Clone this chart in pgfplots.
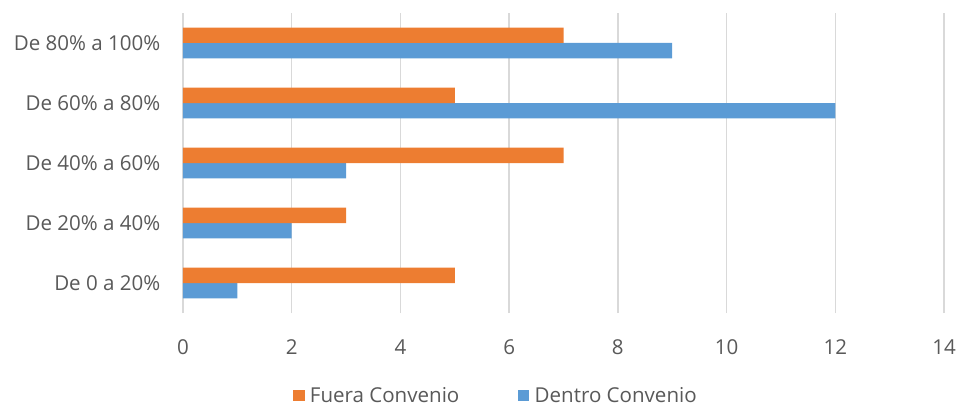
\documentclass[border=0pt]{standalone}
\usepackage{pgfplots}
\pgfplotsset{compat=1.18}
\usepackage{fontspec}
\setmainfont{Open Sans}
\definecolor{cOrange}{HTML}{ED7D31}
\definecolor{cBlue}{HTML}{5B9BD5}
\definecolor{cText}{HTML}{595959}
\definecolor{cGrid}{HTML}{D9D9D9}
\begin{document}
\begin{tikzpicture}
\path[use as bounding box] (-137.25pt,-70.5pt) rectangle (579.75pt,234.75pt);
\begin{axis}[
  at={(0pt,0pt)}, anchor=south west,
  scale only axis,
  width=570.75pt, height=225pt,
  xbar=0pt, bar width=11.6pt,
  xmin=0, xmax=14,
  ymin=-0.5, ymax=4.5,
  xtick={0,2,...,14},
  ytick={0,1,2,3,4},
  yticklabels={De 0 a 20\%, De 20\% a 40\%, De 40\% a 60\%, De 60\% a 80\%, De 80\% a 100\%},
  axis line style={draw=none},
  major tick length=0pt,
  xmajorgrids,
  grid style={cGrid, line width=1.1pt},
  /pgf/number format/assume math mode=true,
  tick label style={font=\fontsize{15.4}{18}\selectfont, text=cText},
  xticklabel style={yshift=-16.5pt},
  yticklabel style={xshift=-13.5pt},
  legend style={
    at={(235pt,-62pt)}, anchor=center,
    draw=none, fill=none,
    font=\fontsize{15.4}{18}\selectfont, text=cText,
    legend columns=2,
    /tikz/every even column/.append style={column sep=42pt},
    legend cell align=left,
  },
  legend image code/.code={\fill[#1] (0pt,-4.3pt) rectangle (8.6pt,4.3pt); \path (10.5pt,0pt);},
  reverse legend,
]
\addplot[fill=cBlue, draw=none] coordinates {(1,0) (2,1) (3,2) (12,3) (9,4)};
\addlegendentry{Dentro Convenio}
\addplot[fill=cOrange, draw=none] coordinates {(5,0) (3,1) (7,2) (5,3) (7,4)};
\addlegendentry{Fuera Convenio}
\end{axis}
\end{tikzpicture}
\end{document}
